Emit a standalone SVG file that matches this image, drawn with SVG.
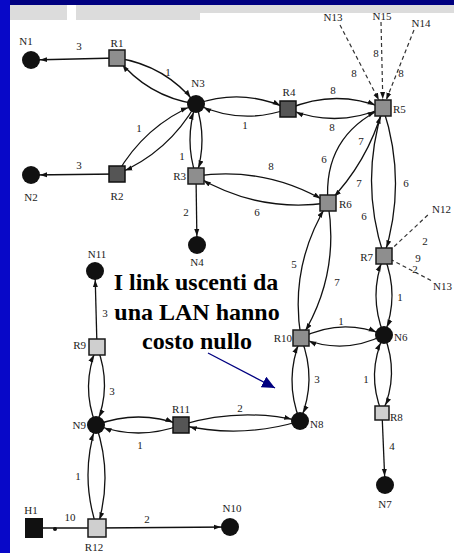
<svg xmlns="http://www.w3.org/2000/svg" width="454" height="553" viewBox="0 0 454 553">
<style>
.e{fill:none;stroke:#111;stroke-width:1.3;marker-end:url(#ah)}
.p{fill:none;stroke:#111;stroke-width:1.3}
.d{fill:none;stroke:#333;stroke-width:1.2;stroke-dasharray:4 3}
.r{fill:#8e8e8e;stroke:#1a1a1a;stroke-width:1.5}
.rd{fill:#555;stroke:#111;stroke-width:1.5}
.rl{fill:#cfcfcf;stroke:#1a1a1a;stroke-width:1.5}
.n{fill:#111}
.t{font-family:"Liberation Serif","Times New Roman",serif;font-size:11px;fill:#222}
.c{font-family:"Liberation Serif","Times New Roman",serif;font-size:11px;fill:#222}
.m{text-anchor:middle}
.s{text-anchor:end}
.big{font-family:"Liberation Serif","Times New Roman",serif;font-size:24px;font-weight:bold;fill:#000;text-anchor:middle}
</style>
<defs>
<marker id="ah" markerUnits="userSpaceOnUse" markerWidth="8" markerHeight="6" refX="16" refY="3" orient="auto"><path d="M0,0.5 L7,3 L0,5.5z" fill="#111"/></marker>
<marker id="nav" markerUnits="userSpaceOnUse" markerWidth="14" markerHeight="12" refX="13" refY="6" orient="auto"><path d="M0,0 L13,6 L0,12z" fill="#000080"/></marker>
</defs>
<rect width="454" height="553" fill="#fff"/>
<g id="frame">
<rect x="0" y="0" width="454" height="5" fill="#000080"/>
<rect x="0" y="0" width="10" height="553" fill="#0808c8"/>
<rect x="10" y="5" width="57" height="15" fill="#dcdcdc"/>
<rect x="76" y="5" width="124" height="15" fill="#dcdcdc"/>
<rect x="200" y="5" width="254" height="8" fill="#dcdcdc"/>
</g>
<g id="connectors">
<path class="e" d="M117,58 L31,60"/>
<path class="e" d="M117,174 L31,175"/>
<path class="e" d="M117,58 Q165.6,65.4 196,104"/>
<path class="e" d="M196,104 Q147.4,96.6 117,58"/>
<path class="e" d="M117,174 Q144.6,125.5 196,104"/>
<path class="e" d="M196,104 Q168.4,152.5 117,174"/>
<path class="e" d="M196,104 Q208,140 196,176"/>
<path class="e" d="M196,176 Q184,140 196,104"/>
<path class="e" d="M196,176 L197,245"/>
<path class="e" d="M196,104 Q243,87.5 288,109"/>
<path class="e" d="M288,109 Q241,125.5 196,104"/>
<path class="e" d="M288,109 Q335.3,88.5 383,108"/>
<path class="e" d="M383,108 Q335.7,128.5 288,109"/>
<path class="e" d="M196,176 Q266.8,166 328,203"/>
<path class="e" d="M328,203 Q257.2,213 196,176"/>
<path class="e" d="M383,108 Q367.6,162.5 328,203"/>
<path class="e" d="M328,203 Q322.6,136.5 383,108"/>
<path class="e" d="M383,108 Q407.5,182 384,256"/>
<path class="e" d="M384,256 Q359.5,182 383,108"/>
<path class="d" style="marker-end:url(#ah)" d="M340,25 L383,108"/>
<path class="d" style="marker-end:url(#ah)" d="M381,22 L383,108"/>
<path class="d" style="marker-end:url(#ah)" d="M414,30 L383,108"/>
<path class="d" d="M384,256 L430,213"/>
<path class="d" d="M384,256 L432,281"/>
<path class="e" d="M384,256 Q400,295.5 384,335"/>
<path class="e" d="M384,335 Q368,295.5 384,256"/>
<path class="e" d="M328,203 Q340,275.6 301,338"/>
<path class="e" d="M301,338 Q289,265.4 328,203"/>
<path class="e" d="M301,338 Q341.8,317.5 384,335"/>
<path class="e" d="M384,335 Q343.2,355.5 301,338"/>
<path class="e" d="M301,338 Q317.5,379.7 300,421"/>
<path class="e" d="M300,421 Q283.5,379.3 301,338"/>
<path class="e" d="M384,335 Q400,374.4 382,413"/>
<path class="e" d="M382,413 Q366,373.6 384,335"/>
<path class="e" d="M382,413 L385,485"/>
<path class="e" d="M181,425 Q240,407 300,421"/>
<path class="e" d="M300,421 Q241,439 181,425"/>
<path class="e" d="M96,425 Q138.5,409 181,425"/>
<path class="e" d="M181,425 Q138.5,441 96,425"/>
<path class="e" d="M97,347 Q112.5,386.2 96,425"/>
<path class="e" d="M96,425 Q80.5,385.8 97,347"/>
<path class="e" d="M97,347 L95,271"/>
<path class="e" d="M96,425 Q113.5,476.3 97,528"/>
<path class="e" d="M97,528 Q79.5,476.7 96,425"/>
<path class="p" d="M43,528 L89,528"/>
<circle cx="55" cy="529" r="2" fill="#111"/>
<path class="e" d="M97,528 L230,527"/>
<path fill="none" stroke="#000080" stroke-width="1.3" marker-end="url(#nav)" d="M208,353 L275,388"/>
</g>
<g id="edge-labels">
<text class="t m" x="79" y="50">3</text>
<text class="t m" x="79" y="169">3</text>
<text class="t m" x="168" y="76">1</text>
<text class="t m" x="139" y="132">1</text>
<text class="t m" x="182" y="160">1</text>
<text class="t m" x="186" y="216">2</text>
<text class="t m" x="245" y="129">1</text>
<text class="t m" x="333" y="94">8</text>
<text class="t m" x="332" y="131">8</text>
<text class="t m" x="271" y="170">8</text>
<text class="t m" x="257" y="216">6</text>
<text class="t m" x="324" y="163">6</text>
<text class="t m" x="361" y="145">7</text>
<text class="t m" x="359" y="187">7</text>
<text class="t m" x="406" y="187">6</text>
<text class="t m" x="364" y="220">6</text>
<text class="t m" x="354" y="77">8</text>
<text class="t m" x="376" y="57">8</text>
<text class="t m" x="401" y="77">8</text>
<text class="t m" x="425" y="245">2</text>
<text class="t m" x="418" y="262">9</text>
<text class="t m" x="415" y="273">2</text>
<text class="t m" x="400" y="301">1</text>
<text class="t m" x="294" y="268">5</text>
<text class="t m" x="337" y="286">7</text>
<text class="t m" x="341" y="325">1</text>
<text class="t m" x="317" y="383">3</text>
<text class="t m" x="366" y="383">1</text>
<text class="t m" x="392" y="450">4</text>
<text class="t m" x="240" y="412">2</text>
<text class="t m" x="140" y="449">1</text>
<text class="t m" x="112" y="395">3</text>
<text class="t m" x="105" y="317">3</text>
<text class="t m" x="78" y="480">1</text>
<text class="t m" x="70" y="521">10</text>
<text class="t m" x="147" y="523">2</text>
</g>
<g id="N1"><circle class="n" cx="31" cy="60" r="9"/><text class="t m" x="26" y="45">N1</text></g>
<g id="R1"><rect class="r" x="109" y="50" width="16" height="16"/><text class="t m" x="117" y="47">R1</text></g>
<g id="N2"><circle class="n" cx="31" cy="175" r="9"/><text class="t m" x="31" y="201">N2</text></g>
<g id="R2"><rect class="rd" x="109" y="166" width="16" height="16"/><text class="t m" x="117" y="200">R2</text></g>
<g id="N3"><circle class="n" cx="196" cy="104" r="9"/><text class="t m" x="198" y="87">N3</text></g>
<g id="R3"><rect class="r" x="188" y="168" width="16" height="16"/><text class="t s" x="186" y="180">R3</text></g>
<g id="N4"><circle class="n" cx="197" cy="245" r="9"/><text class="t m" x="197" y="266">N4</text></g>
<g id="R4"><rect class="rd" x="280" y="101" width="16" height="16"/><text class="t m" x="289" y="96">R4</text></g>
<g id="R5"><rect class="r" x="375" y="100" width="16" height="16"/><text class="t" x="393" y="113">R5</text></g>
<g id="N13a"><text class="t m" x="333" y="21">N13</text></g>
<g id="N15"><text class="t m" x="382" y="20">N15</text></g>
<g id="N14"><text class="t m" x="421" y="27">N14</text></g>
<g id="R6"><rect class="r" x="320" y="195" width="16" height="16"/><text class="t" x="339" y="208">R6</text></g>
<g id="R7"><rect class="r" x="376" y="248" width="16" height="16"/><text class="t s" x="373" y="261">R7</text></g>
<g id="N12"><text class="t" x="432" y="213">N12</text></g>
<g id="N13b"><text class="t" x="433" y="290">N13</text></g>
<g id="N6"><circle class="n" cx="384" cy="335" r="9"/><text class="t" x="394" y="341">N6</text></g>
<g id="R10"><rect class="r" x="293" y="330" width="16" height="16"/><text class="t s" x="292" y="342">R10</text></g>
<g id="R8"><rect class="rl" x="375" y="406" width="14" height="14"/><text class="t" x="390" y="421">R8</text></g>
<g id="N7"><circle class="n" cx="385" cy="485" r="9"/><text class="t m" x="385" y="508">N7</text></g>
<g id="N8"><circle class="n" cx="300" cy="421" r="9"/><text class="t" x="310" y="428">N8</text></g>
<g id="R11"><rect class="rd" x="173" y="417" width="16" height="16"/><text class="t m" x="181" y="413">R11</text></g>
<g id="N9"><circle class="n" cx="96" cy="425" r="9"/><text class="t s" x="86" y="429">N9</text></g>
<g id="R9"><rect class="rl" x="89" y="339" width="16" height="16"/><text class="t s" x="86" y="349">R9</text></g>
<g id="N11"><circle class="n" cx="95" cy="271" r="9"/><text class="t m" x="97" y="258">N11</text></g>
<g id="R12"><rect class="rl" x="88" y="519" width="18" height="18"/><text class="t m" x="94" y="551">R12</text></g>
<g id="H1"><rect x="25" y="518" width="18" height="20" fill="#111"/><text class="t m" x="31" y="514">H1</text></g>
<g id="N10"><circle class="n" cx="230" cy="527" r="9"/><text class="t m" x="232" y="512">N10</text></g>
<g id="note">
<text class="big" x="196" y="290">I link uscenti da</text>
<text class="big" x="197" y="320">una LAN hanno</text>
<text class="big" x="197" y="349">costo nullo</text>
</g>
</svg>
